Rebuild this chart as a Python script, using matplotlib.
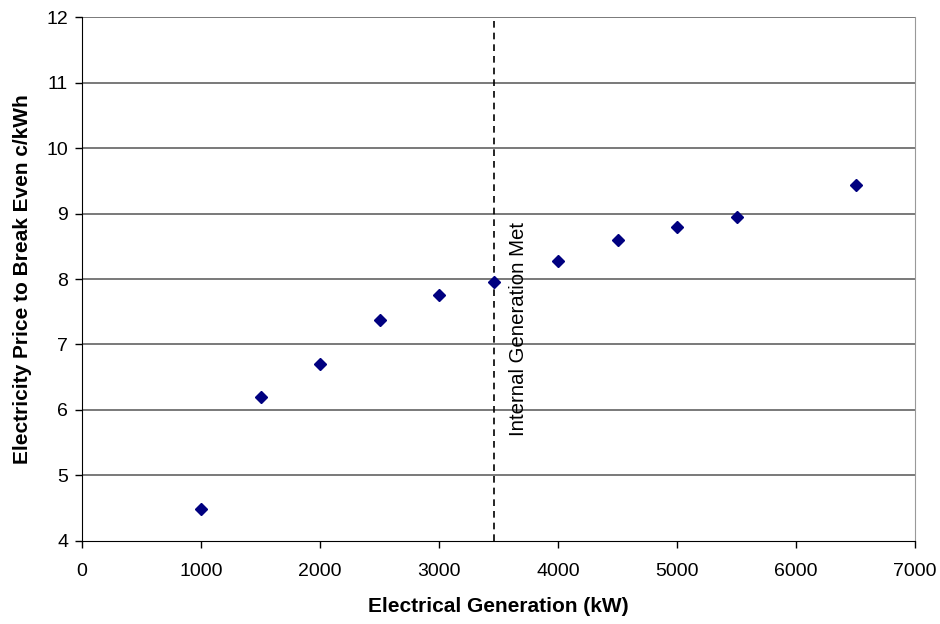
import matplotlib.pyplot as plt

gen_kw = [1000, 1500, 2000, 2500, 3000, 3460, 4000, 4500, 5000, 5500, 6500]
price = [4.48, 6.19, 6.70, 7.38, 7.75, 7.95, 8.28, 8.60, 8.80, 8.95, 9.43]
internal_met_kw = 3460

plt.rcParams['font.family'] = ['Liberation Sans', 'DejaVu Sans']

fig = plt.figure(figsize=(9.4, 6.24), dpi=100)
ax = fig.add_axes([82 / 940, 1 - 540.7 / 624, (915 - 82) / 940, (540.7 - 17.3) / 624])

for yv in range(5, 13):
    ax.axhline(yv, color='#555555', linewidth=1.1, zorder=1)
ax.axvline(internal_met_kw, color='black', linestyle=(0, (4, 3)), linewidth=1.2, zorder=2)
ax.plot(gen_kw, price, linestyle='', marker='D', markersize=6.5,
        color='#000080', zorder=3)

ax.text(3670, 5.6, 'Internal Generation Met', rotation=90, fontsize=14.7,
        ha='center', va='bottom')

ax.set_xlim(0, 7000)
ax.set_ylim(4, 12)
ax.set_xticks(range(0, 7001, 1000))
ax.set_yticks(range(4, 13))
ax.tick_params(labelsize=14, length=5, width=1, direction='out')
ax.tick_params(axis='x', pad=11)
ax.tick_params(axis='y', pad=5)

ax.spines['top'].set_visible(False)
ax.spines['right'].set_color('#999999')
ax.spines['left'].set_color('black')
ax.spines['bottom'].set_color('black')

ax.set_xlabel('Electrical Generation (kW)', fontsize=15, fontweight='bold', labelpad=12)
ax.set_ylabel('Electricity Price to Break Even c/kWh', fontsize=15, fontweight='bold', labelpad=10)

fig.savefig('out.png', dpi=100)
